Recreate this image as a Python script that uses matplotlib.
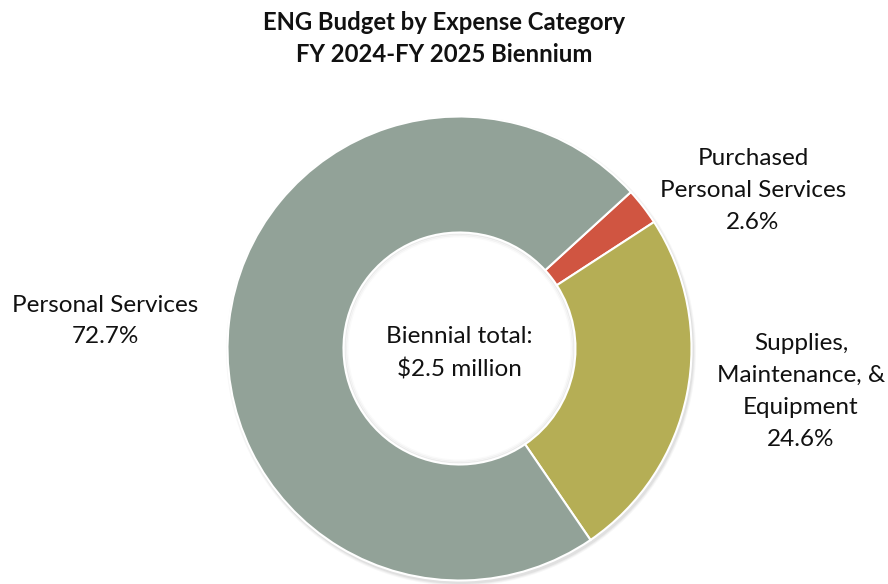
import matplotlib
matplotlib.use("Agg")
import matplotlib.pyplot as plt
from matplotlib.patches import Circle

categories = ["Purchased\nPersonal Services", "Supplies,\nMaintenance, &\nEquipment", "Personal Services"]
values = [2.6, 24.6, 72.7]
colors = ["#D05541", "#B5AE55", "#92A298"]
title_lines = ["ENG Budget by Expense Category", "FY 2024-FY 2025 Biennium"]
center_text = "Biennial total:\n$2.5 million"

W, H = 888, 584
fig = plt.figure(figsize=(W / 100, H / 100), dpi=100)
ax = fig.add_axes([0, 0, 1, 1])
ax.set_xlim(0, W)
ax.set_ylim(0, H)
ax.set_aspect("equal")
ax.axis("off")

cx, cy, R = 459.5, H - 348.5, 232
font = "Lato"

# faint shadow
for i, a in enumerate([0.05, 0.04, 0.03]):
    ax.add_patch(Circle((cx + 1.5, cy - 2.5), R + 1 + i, color="black", alpha=a, lw=0, zorder=0))
ax.add_patch(Circle((cx, cy), R * 0.5, color="white", lw=0, zorder=0.5))
for i, a in enumerate([0.06, 0.04, 0.02]):
    ax.add_patch(Circle((cx, cy), R * 0.5 - 1 - i * 1.5, fill=False, edgecolor="black",
                        alpha=a, lw=1.5, zorder=0.6))

wedges, _ = ax.pie(values, colors=colors, startangle=42.4, counterclock=False,
                   center=(cx, cy), radius=R, frame=True,
                   wedgeprops=dict(width=R * 0.5, edgecolor="white", linewidth=1.5))
ax.set_xlim(0, W)
ax.set_ylim(0, H)
ax.axis("off")

labels_fmt = [f"{c}\n{v:.1f}%" for c, v in zip(categories, values)]
label_pos = [(753, H - 190.5), (801, H - 391.5), (105, H - 321)]
for txt, (x, y) in zip(labels_fmt, label_pos):
    ax.text(x, y, txt, ha="center", va="center", fontsize=17.5, family=font,
            linespacing=1.64, color="#111111")

ax.text(cx, H - 353.5, center_text, ha="center", va="center", fontsize=17.5,
        family=font, linespacing=1.64, color="#111111")

ax.text(444, H - 22, title_lines[0], ha="center", va="center", fontsize=17.2,
        family=font, weight="bold", color="#111111")
ax.text(444, H - 55, title_lines[1], ha="center", va="center", fontsize=17.2,
        family=font, weight="bold", color="#111111")

fig.savefig("out.png", dpi=100)
